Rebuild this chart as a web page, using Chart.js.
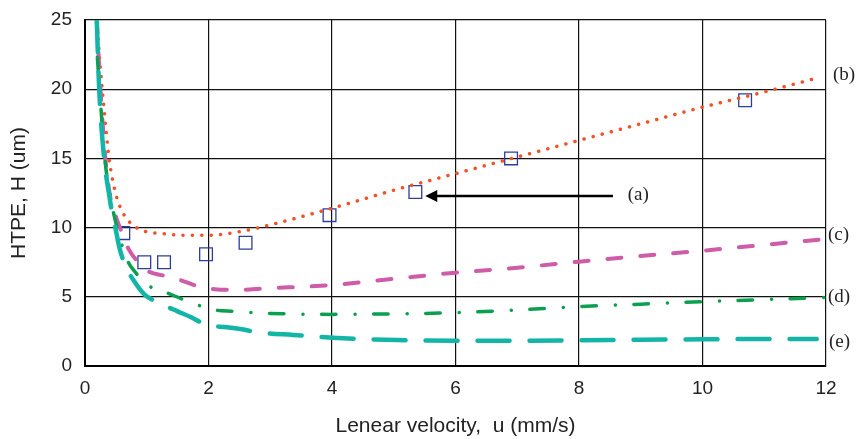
<!DOCTYPE html>
<html>
<head>
<meta charset="utf-8">
<script src="https://cdn.jsdelivr.net/npm/chart.js@4/dist/chart.umd.min.js"></script>
<style>
  html, body { margin: 0; padding: 0; background: #fff; }
  #wrap { width: 856px; height: 439px; }
</style>
</head>
<body>
<div id="wrap"><canvas id="c"></canvas></div>
<script>
// ---- data ----
const xTicks = [0, 2, 4, 6, 8, 10, 12];
const yTicks = [0, 5, 10, 15, 20, 25];

// measured points (a)
const measX = [0.62, 0.96, 1.28, 1.96, 2.6, 3.96, 5.35, 6.9, 10.69];
const measY = [9.6, 7.5, 7.5, 8.07, 8.9, 10.9, 12.57, 15.0, 19.2];

// curve (b) orange dotted
const bX = [0.19, 0.25, 0.3, 0.39, 0.5, 0.6, 0.7, 0.85, 1.0, 1.3, 1.6, 2.0, 2.5, 3.0, 4.0, 5.0, 6.0, 7.0, 8.0, 9.0, 10.0, 11.0, 11.85];
const bY = [25, 21.5, 19, 15, 12.4, 11.2, 10.5, 9.95, 9.7, 9.55, 9.45, 9.45, 9.7, 10.2, 11.4, 12.7, 13.9, 15.1, 16.3, 17.5, 18.7, 19.8, 20.8];

// curve (c) magenta dashed
const cX = [0.19, 0.25, 0.33, 0.41, 0.5, 0.6, 0.7, 0.86, 1.0, 1.3, 1.55, 1.8, 2.1, 2.5, 2.9, 4, 5, 6, 7, 8, 9, 10, 11, 12];
const cY = [25, 20, 15, 12.2, 10.8, 9.6, 8.5, 7.5, 6.9, 6.5, 6.2, 5.8, 5.55, 5.5, 5.6, 5.85, 6.3, 6.74, 7.1, 7.54, 7.95, 8.33, 8.75, 9.18];

// curve (d) green dash-dot
const dX = [0.2, 0.26, 0.32, 0.4, 0.46, 0.58, 0.7, 0.81, 1.04, 1.32, 1.57, 1.83, 2.1, 2.4, 2.65, 3, 4, 5, 6, 7, 8, 9, 10, 11, 12];
const dY = [22.3, 18.5, 15, 12.5, 11.1, 9.0, 7.5, 6.8, 5.78, 5.3, 4.84, 4.4, 4.05, 3.95, 3.88, 3.8, 3.73, 3.77, 3.85, 4.05, 4.29, 4.47, 4.65, 4.8, 4.96];

// curve (e) teal long dash
const eX = [0.19, 0.23, 0.31, 0.39, 0.43, 0.5, 0.56, 0.66, 0.8, 0.96, 1.21, 1.5, 1.7, 1.98, 2.3, 2.54, 2.81, 3.37, 4.18, 5.05, 6, 7, 8, 9, 10, 11, 11.85];
const eY = [25, 20, 15, 12.4, 11.3, 9.8, 8.5, 7.2, 6.1, 5.18, 4.53, 3.95, 3.56, 2.96, 2.8, 2.65, 2.43, 2.24, 2.0, 1.88, 1.83, 1.83, 1.86, 1.9, 1.93, 1.95, 1.95];

// curve labels + arrow, in data units
const curveLabels = [
  { text: '(b)', dx: 7, y: 21.0 },
  { text: '(c)', dx: 2, y: 9.47 },
  { text: '(d)', dx: 2, y: 4.99 },
  { text: '(e)', dx: 3, y: 1.73 },
];
const labelA = { text: '(a)', x: 8.79, y: 12.36 };
const arrowA = { x0: 8.55, x1: 5.51, y: 12.28 };

// ---- helpers ----
const pts = (xs, ys) => xs.map((x, i) => ({ x, y: ys[i] }));

function curve(label, xs, ys, color, width, dash) {
  return {
    type: 'line',
    label,
    data: pts(xs, ys),
    borderColor: color,
    borderWidth: width,
    borderDash: dash,
    borderCapStyle: 'round',
    pointRadius: 0,
    fill: false,
    cubicInterpolationMode: 'monotone',
  };
}

// draws the (a)…(e) tags and the arrow
const annotate = {
  id: 'annotate',
  afterDraw(chart) {
    const { ctx, chartArea, scales: { x, y } } = chart;
    ctx.save();
    ctx.fillStyle = '#222';
    ctx.font = '19px "Liberation Serif", "Times New Roman", serif';
    ctx.textBaseline = 'middle';
    ctx.textAlign = 'left';
    for (const l of curveLabels) {
      ctx.fillText(l.text, chartArea.right + l.dx, y.getPixelForValue(l.y));
    }
    ctx.fillText(labelA.text, x.getPixelForValue(labelA.x), y.getPixelForValue(labelA.y));

    // arrow
    const ay = y.getPixelForValue(arrowA.y);
    const ax0 = x.getPixelForValue(arrowA.x0);
    const ax1 = x.getPixelForValue(arrowA.x1);
    ctx.strokeStyle = '#000';
    ctx.lineWidth = 2.5;
    ctx.beginPath();
    ctx.moveTo(ax0, ay);
    ctx.lineTo(ax1 + 10, ay);
    ctx.stroke();
    ctx.fillStyle = '#000';
    ctx.beginPath();
    ctx.moveTo(ax1, ay);
    ctx.lineTo(ax1 + 12, ay - 6);
    ctx.lineTo(ax1 + 12, ay + 6);
    ctx.closePath();
    ctx.fill();
    ctx.restore();
  },
};

const tickFont = { family: '"Liberation Sans", Arial, sans-serif', size: 19 };
const titleFont = { family: '"Liberation Sans", Arial, sans-serif', size: 21 };

new Chart(document.getElementById('c'), {
  data: {
    datasets: [
      curve('(e)', eX, eY, '#12B5A6', 4.5, [32, 20]),
      curve('(d)', dX, dY, '#0AA050', 3.5, [14.5, 19, 0.1, 18.5]),
      curve('(c)', cX, cY, '#CE5CA8', 4, [14, 19]),
      curve('(b)', bX, bY, '#F2522A', 3.5, [0.1, 9.3]),
      {
        type: 'scatter',
        label: '(a)',
        data: pts(measX, measY),
        pointStyle: 'rect',
        pointRadius: 9,
        borderColor: '#2E3C9C',
        borderWidth: 1.3,
        backgroundColor: 'rgba(0,0,0,0)',
      },
    ],
  },
  options: {
    responsive: true,
    maintainAspectRatio: false,
    animation: false,
    layout: { padding: { top: 20, right: 30, left: 0, bottom: 0 } },
    plugins: { legend: { display: false }, tooltip: { enabled: false } },
    scales: {
      x: {
        type: 'linear',
        min: 0,
        max: 12,
        afterBuildTicks: (s) => { s.ticks = xTicks.map(v => ({ value: v })); },
        afterFit: (s) => { s.height = 73; },
        grid: { color: '#111', lineWidth: 1.2, drawTicks: false },
        border: { color: '#000', width: 2 },
        ticks: { color: '#222', font: tickFont, padding: 11 },
        title: {
          display: true,
          text: 'Lenear velocity,  u (mm/s)',
          color: '#222',
          font: titleFont,
          padding: { top: 0, bottom: 0 },
        },
      },
      y: {
        type: 'linear',
        min: 0,
        max: 25,
        afterBuildTicks: (s) => { s.ticks = yTicks.map(v => ({ value: v })); },
        afterFit: (s) => {
          s.width = 85;
          // tick padding would otherwise push the plot top down
          s.paddingTop = 0;
          s.paddingBottom = 0;
        },
        grid: { color: '#111', lineWidth: 1.2, drawTicks: false },
        border: { color: '#000', width: 2 },
        ticks: { color: '#222', font: tickFont, padding: 13 },
        title: {
          display: true,
          text: 'HTPE, H (um)',
          color: '#222',
          font: titleFont,
          padding: { top: 7, bottom: 0 },
        },
      },
    },
  },
  plugins: [annotate],
});
</script>
</body>
</html>
